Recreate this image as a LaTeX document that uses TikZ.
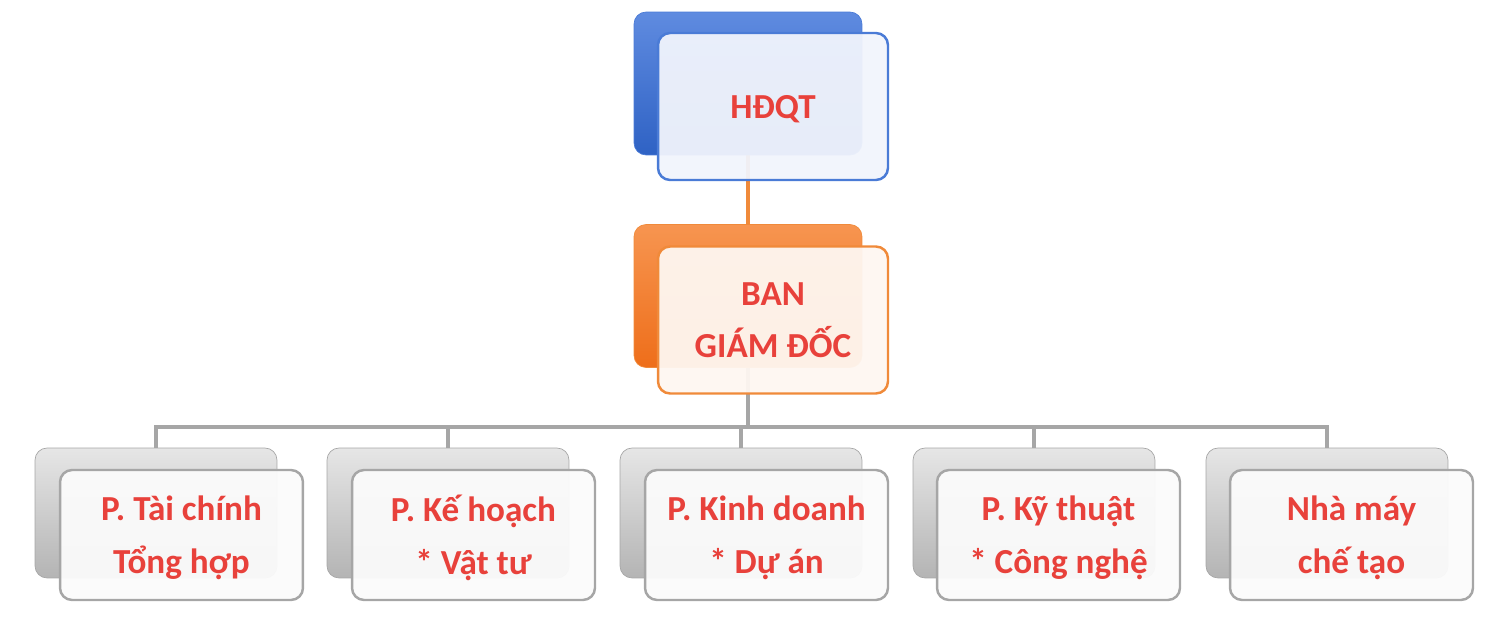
\documentclass[tikz,border=0pt]{standalone}
\usepackage{fontspec}
\setmainfont{Carlito}
\pgfdeclarelayer{background}
\pgfsetlayers{background,main}
\definecolor{txtred}{HTML}{E8413B}
\definecolor{bluedark}{HTML}{2F62C4}
\definecolor{bluelight}{HTML}{5F8BE0}
\definecolor{blueedge}{HTML}{4A7BD6}
\definecolor{orgdark}{HTML}{EE6E1A}
\definecolor{orglight}{HTML}{F79550}
\definecolor{orgedge}{HTML}{F08A3A}
\definecolor{greydark}{HTML}{B4B4B4}
\definecolor{greylight}{HTML}{E6E6E6}
\definecolor{greyedge}{HTML}{A6A6A6}
\tikzset{
	backbox/.style = {rounded corners=0.24cm, inner sep=0pt, minimum width=4.56cm, minimum height=2.86cm},
	frontbox/.style = {rounded corners=0.24cm, line width=1.4pt, inner sep=0pt, align=center,
		minimum width=4.6cm, minimum height=2.94cm, fill opacity=0.95, text opacity=1, text depth=-2pt,
		text=txtred, font=\fontsize{20}{30}\selectfont\bfseries},
	lowback/.style = {backbox, minimum width=4.84cm, minimum height=2.6cm,
		top color=greylight, bottom color=greydark, draw=greyedge},
	lowfront/.style = {frontbox, minimum width=4.86cm, minimum height=2.6cm,
		fill=white!95!greyedge, draw=greyedge},
	link/.style = {line width=2.2pt}
}
\begin{document}
\begin{tikzpicture}[x=0.02cm, y=-0.02cm]
	\useasboundingbox (0,0) rectangle (1492,628);
	% top
	\node[backbox, top color=bluelight, bottom color=bluedark, draw=blueedge] (hdqt-back) at (748,83.5) {};
	\node[frontbox, fill=white!92!blueedge, draw=blueedge] (hdqt) at (773,106.5) {HĐQT};
	% middle
	\node[backbox, top color=orglight, bottom color=orgdark, draw=orgedge] (bgd-back) at (748,296) {};
	\node[frontbox, fill=white!93!orgedge, draw=orgedge] (bgd) at (773,320) {BAN\\GIÁM ĐỐC};
	% bottom row
	\node[lowback] (p1-back) at (156,513) {};
	\node[lowfront] (p1) at (181.5,535) {P. Tài chính\\Tổng hợp};
	\node[lowback] (p2-back) at (448,513) {};
	\node[lowfront] (p2) at (473.5,535) {P. Kế hoạch\\* Vật tư};
	\node[lowback] (p3-back) at (741,513) {};
	\node[lowfront] (p3) at (766.5,535) {P. Kinh doanh\\* Dự án};
	\node[lowback] (p4-back) at (1034,513) {};
	\node[lowfront] (p4) at (1058.5,535) {P. Kỹ thuật\\* Công nghệ};
	\node[lowback] (p5-back) at (1327,513) {};
	\node[lowfront] (p5) at (1351.5,535) {Nhà máy\\chế tạo};
	% links
	\begin{pgfonlayer}{background}
		\draw[link, orgedge] (hdqt-back.south) -- (bgd-back.north);
		\coordinate (bus) at (748,427);
		\draw[link, greyedge] (bgd-back.south) -- (bus);
		\foreach \i in {1,...,5}
			\draw[link, greyedge] (bus) -| (p\i-back.north);
	\end{pgfonlayer}
\end{tikzpicture}
\end{document}
